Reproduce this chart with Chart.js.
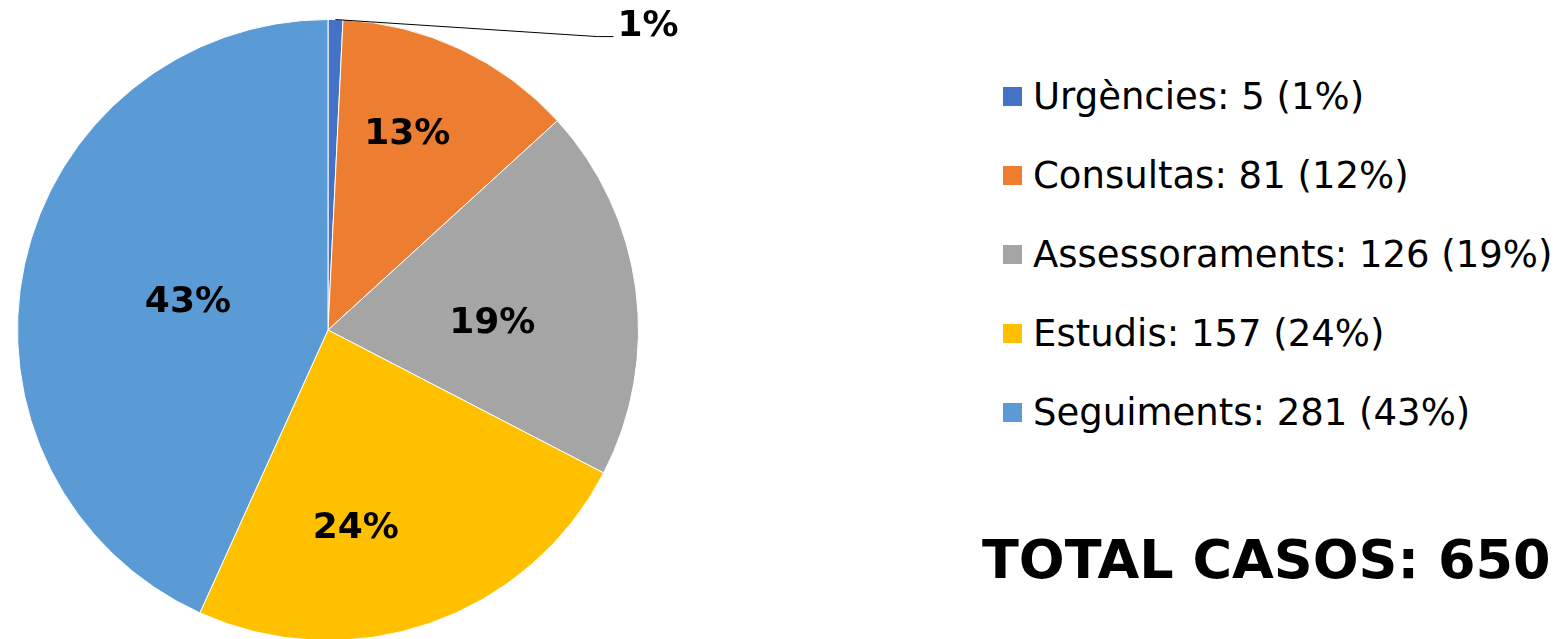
<!DOCTYPE html>
<html>
<head>
<meta charset="utf-8">
<script src="https://cdn.jsdelivr.net/npm/chart.js@4/dist/chart.umd.min.js"></script>
<style>
  html, body { margin: 0; padding: 0; background: #fff; width: 1563px; height: 639px; overflow: hidden; }
  body { position: relative; font-family: "DejaVu Sans", Verdana, sans-serif; }
  #pieBox { position: absolute; left: 0; top: 0; width: 760px; height: 660px; }
  #legend { position: absolute; left: 1003px; top: 57px; }
  .row { display: flex; align-items: center; height: 79px; font-size: 37px; line-height: 37px; color: #000; white-space: nowrap; }
  .box { width: 19px; height: 19px; margin-right: 11px; flex: none; }
  #total { position: absolute; left: 982px; top: 530px; font-size: 54px; font-weight: bold; line-height: 60px; white-space: nowrap; }
</style>
</head>
<body>
<div id="pieBox"><canvas id="pie"></canvas></div>
<div id="legend"></div>
<div id="total"></div>
<script>
// data
const categories = ['Urgències', 'Consultas', 'Assessoraments', 'Estudis', 'Seguiments'];
const cases = [5, 81, 126, 157, 281];
const legendPct = ['1%', '12%', '19%', '24%', '43%'];   // as written in the legend
const sliceLabels = ['1%', '13%', '19%', '24%', '43%']; // as written on the pie
const totalCases = 650;

const colors = ['#4472C4', '#ED7D31', '#A5A5A5', '#FFC000', '#5B9BD5'];

// legend + total as html, built from the arrays
const legend = document.getElementById('legend');
categories.forEach((cat, i) => {
  const row = document.createElement('div');
  row.className = 'row';
  row.innerHTML = '<span class="box" style="background:' + colors[i] + '"></span>' +
    '<span>' + cat + ': ' + cases[i] + ' (' + legendPct[i] + ')</span>';
  legend.appendChild(row);
});
document.getElementById('total').textContent = 'TOTAL CASOS: ' + totalCases;

// where each percent label sits: fraction of radius and angle shift (deg)
// null => outside label with a leader line
const labelPlace = [null, [0.69, -3.5], [0.53, 4], [0.634, 11], [0.462, 0.3]];
const labelSize = 36;

const sliceLabelPlugin = {
  id: 'sliceLabels',
  afterDatasetsDraw(chart) {
    const ctx = chart.ctx;
    const arcs = chart.getDatasetMeta(0).data;
    ctx.save();
    ctx.font = 'bold ' + labelSize + 'px "DejaVu Sans"';
    ctx.fillStyle = '#000';
    ctx.textBaseline = 'alphabetic';
    arcs.forEach((arc, i) => {
      const p = arc.getProps(['x', 'y', 'startAngle', 'endAngle', 'outerRadius'], true);
      const mid = (p.startAngle + p.endAngle) / 2;
      const capHalf = 0.729 * labelSize / 2;
      if (labelPlace[i] === null) {
        // leader line from the rim out to the right
        const sx = p.x + Math.cos(mid) * p.outerRadius;
        const sy = p.y + Math.sin(mid) * p.outerRadius;
        const ex = sx + 262, ey = sy + 17;
        ctx.strokeStyle = '#000';
        ctx.lineWidth = 1;
        ctx.beginPath();
        ctx.moveTo(sx, sy);
        ctx.lineTo(ex, ey);
        ctx.lineTo(ex + 16, ey);
        ctx.stroke();
        ctx.textAlign = 'left';
        ctx.fillText(sliceLabels[i], ex + 20, ey - 1);
      } else {
        const a = mid + labelPlace[i][1] * Math.PI / 180;
        const r = p.outerRadius * labelPlace[i][0];
        ctx.textAlign = 'center';
        ctx.fillText(sliceLabels[i], p.x + Math.cos(a) * r, p.y + Math.sin(a) * r + capHalf);
      }
    });
    ctx.restore();
  }
};

const ctx = document.getElementById('pie').getContext('2d');
const pieChart = new Chart(ctx, {
  type: 'pie',
  data: {
    labels: categories,
    datasets: [{
      data: cases,
      backgroundColor: colors,
      borderColor: '#fff',
      borderWidth: 1
    }]
  },
  options: {
    responsive: true,
    maintainAspectRatio: false,
    animation: false,
    layout: { padding: { left: 17, top: 19, right: 121, bottom: 19 } },
    plugins: {
      legend: { display: false },
      tooltip: { enabled: false }
    }
  },
  plugins: [sliceLabelPlugin]
});
</script>
</body>
</html>
